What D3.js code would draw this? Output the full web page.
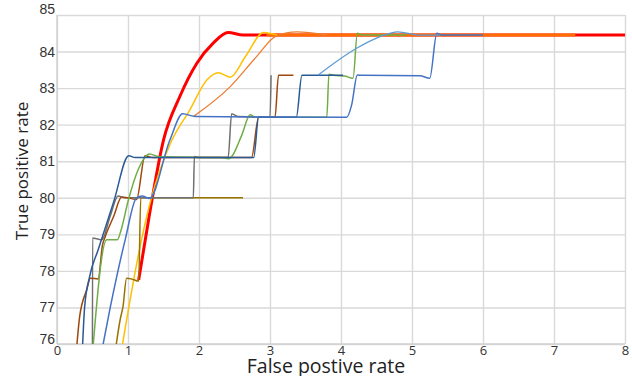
<!DOCTYPE html>
<html>
<head>
<meta charset="utf-8">
<script src="https://cdn.jsdelivr.net/npm/d3@7"></script>
<style>
    body { margin: 0; background: #fff; }
    svg { display: block; }
</style>
</head>
<body>
<div id="chart"></div>
<script>
// tick values
const xTicks = [0, 1, 2, 3, 4, 5, 6, 7, 8];
const yTicks = [76, 77, 78, 79, 80, 81, 82, 83, 84, 85];

// one list of [false positive rate, true positive rate] per curve
const grayPts = [[0.499, 75.5], [0.501, 78.9], [0.56, 78.88], [0.63, 78.85], [0.75, 79.5], [0.86, 80.05], [0.95, 80.0],
    [1.92, 80.0], [1.935, 81.13], [2.0, 81.1], [2.41, 81.1], [2.46, 82.3], [2.55, 82.22], [3.0, 82.2], [3.015, 83.35]];
const brownPts = [[0.26, 75.5], [0.32, 76.76], [0.42, 77.49], [0.47, 77.8], [0.58, 77.78], [0.64, 78.7], [0.68, 78.94],
    [0.8, 79.5], [0.91, 80.02], [1.0, 80.0], [1.12, 79.95], [1.24, 81.15], [1.35, 81.1], [2.74, 81.1], [2.84, 82.2],
    [3.07, 82.2], [3.12, 83.35], [3.33, 83.35]];
const darkBluePts = [[0.35, 75.5], [0.39, 77.03], [0.46, 77.85], [0.58, 78.58], [0.8, 79.9], [1.01, 81.15], [1.1, 81.1],
    [2.77, 81.1], [2.84, 82.2], [3.37, 82.2], [3.45, 83.35], [4.03, 83.35]];
const bluePts = [[0.6, 75.5], [0.75, 77.0], [0.96, 78.85], [1.12, 80.0], [1.2, 80.05], [1.3, 79.98], [1.59, 81.58],
    [1.77, 82.3], [1.95, 82.22], [4.08, 82.2], [4.15, 82.54], [4.23, 83.36], [4.3, 83.35], [5.11, 83.34], [5.25, 83.27],
    [5.35, 84.5], [5.42, 84.45], [6.0, 84.45]];
const greenPts = [[0.49, 75.5], [0.7, 78.85], [0.85, 78.85], [0.9, 79.1], [1.0, 79.9], [1.15, 80.8], [1.3, 81.2],
    [1.45, 81.12], [2.3, 81.1], [2.42, 81.07], [2.6, 81.7], [2.72, 82.27], [2.8, 82.2], [3.8, 82.2], [3.83, 83.38],
    [3.9, 83.35], [4.05, 83.33], [4.17, 83.27], [4.23, 84.5], [4.3, 84.45], [4.92, 84.45]];
const olivePts = [[0.8, 75.5], [0.89, 76.67], [0.93, 77.03], [0.98, 77.8], [1.05, 77.78], [1.15, 77.72], [1.18, 80.0],
    [1.25, 80.0], [2.62, 80.0]];
const yellowPts = [[0.88, 75.5], [1.19, 78.85], [1.33, 80.0], [1.6, 81.5], [1.87, 82.4], [2.11, 83.22], [2.27, 83.42],
    [2.44, 83.3], [2.65, 83.85], [2.91, 84.52], [3.1, 84.45]];
const lightOrangePts = [[1.92, 82.22], [2.44, 83.04], [2.81, 83.86], [3.09, 84.43], [3.38, 84.54], [3.8, 84.45]];
const lightBluePts = [[3.68, 83.36], [4.22, 84.09], [4.55, 84.41], [4.8, 84.54], [5.1, 84.45], [5.4, 84.45]];
const redPts = [[1.15, 77.75], [1.29, 79.4], [1.5, 81.58], [1.73, 82.77], [1.97, 83.68], [2.2, 84.23], [2.41, 84.52],
    [2.62, 84.45], [2.9, 84.45], [8, 84.45]];
const orangePts = [[2.95, 84.45], [7.3, 84.45]];

// drawing order: thick ones at the bottom
const series = [
    { pts: redPts, color: '#ff0000', w: 3 },
    { pts: orangePts, color: '#ff6d00', w: 3 },
    { pts: lightOrangePts, color: '#ed7d31', w: 1.3 },
    { pts: yellowPts, color: '#ffc000', w: 1.5 },
    { pts: olivePts, color: '#997300', w: 1.5 },
    { pts: grayPts, color: '#707070', w: 1.5 },
    { pts: brownPts, color: '#9e480e', w: 1.5 },
    { pts: greenPts, color: '#70ad47', w: 1.5 },
    { pts: darkBluePts, color: '#2a5a96', w: 1.5 },
    { pts: bluePts, color: '#4472c4', w: 1.5 },
    { pts: lightBluePts, color: '#5b9bd5', w: 1.3 }
];

const width = 632;
const height = 376;
const m = { top: 15, right: 7, bottom: 32, left: 57 };
const w = width - m.left - m.right;
const h = height - m.top - m.bottom;

const x = d3.scaleLinear().domain([0, 8]).range([0, w]);
const y = d3.scaleLinear().domain([76, 85]).range([h, 0]);

const svg = d3.select('#chart')
    .append('svg')
        .attr('width', width)
        .attr('height', height);

const g = svg.append('g')
    .attr('transform', 'translate(' + m.left + ',' + m.top + ')');

g.append('clipPath')
    .attr('id', 'plot-clip')
    .append('rect')
        .attr('x', 0)
        .attr('y', -4)
        .attr('width', w + 2)
        .attr('height', h + 4);

// grid + tick labels via the axes
const yAxis = g.append('g')
    .call(d3.axisLeft(y).tickValues(yTicks).tickSize(-w).tickPadding(2));

const xAxis = g.append('g')
    .attr('transform', 'translate(0,' + h + ')')
    .call(d3.axisBottom(x).tickValues(xTicks).tickSize(-h).tickPadding(3));

[xAxis, yAxis].forEach(a => {
    a.select('.domain').remove();
    a.selectAll('.tick line')
        .attr('stroke', '#d9d9d9')
        .attr('stroke-width', 1.4);
});

yAxis.selectAll('.tick text')
    .attr('fill', '#333')
    .style('font', '14px "Liberation Sans", Arial, sans-serif')
    .attr('dy', d => d === 85 ? '-0.08em' : d === 76 ? '-0.02em' : '0.32em');

xAxis.selectAll('.tick text')
    .attr('fill', '#333')
    .style('font', '13px "Open Sans", sans-serif')
    .attr('dy', '0.6em');

// plot frame lines on the left and bottom
g.append('line')
    .attr('x1', 0).attr('x2', 0)
    .attr('y1', 0).attr('y2', h)
    .attr('stroke', '#d0d0d0')
    .attr('stroke-width', 1.4);

g.append('line')
    .attr('x1', 0).attr('x2', w)
    .attr('y1', h).attr('y2', h)
    .attr('stroke', '#d0d0d0')
    .attr('stroke-width', 1.4);

const line = d3.line()
    .x(d => x(d[0]))
    .y(d => y(d[1]))
    .curve(d3.curveMonotoneX);

g.append('g')
    .attr('clip-path', 'url(#plot-clip)')
    .selectAll('path')
    .data(series)
    .enter()
    .append('path')
        .attr('d', d => line(d.pts))
        .attr('fill', 'none')
        .attr('stroke', d => d.color)
        .attr('stroke-width', d => d.w)
        .attr('stroke-linejoin', 'round');

// axis titles
svg.append('text')
    .attr('transform', 'translate(28,171) rotate(-90)')
    .attr('text-anchor', 'middle')
    .attr('fill', '#222')
    .style('font', '17px "Open Sans", sans-serif')
    .text('True positive rate');

svg.append('text')
    .attr('x', 326)
    .attr('y', 373)
    .attr('text-anchor', 'middle')
    .attr('fill', '#222')
    .style('font', '19.5px "Open Sans", sans-serif')
    .text('False postive rate');
</script>
</body>
</html>
